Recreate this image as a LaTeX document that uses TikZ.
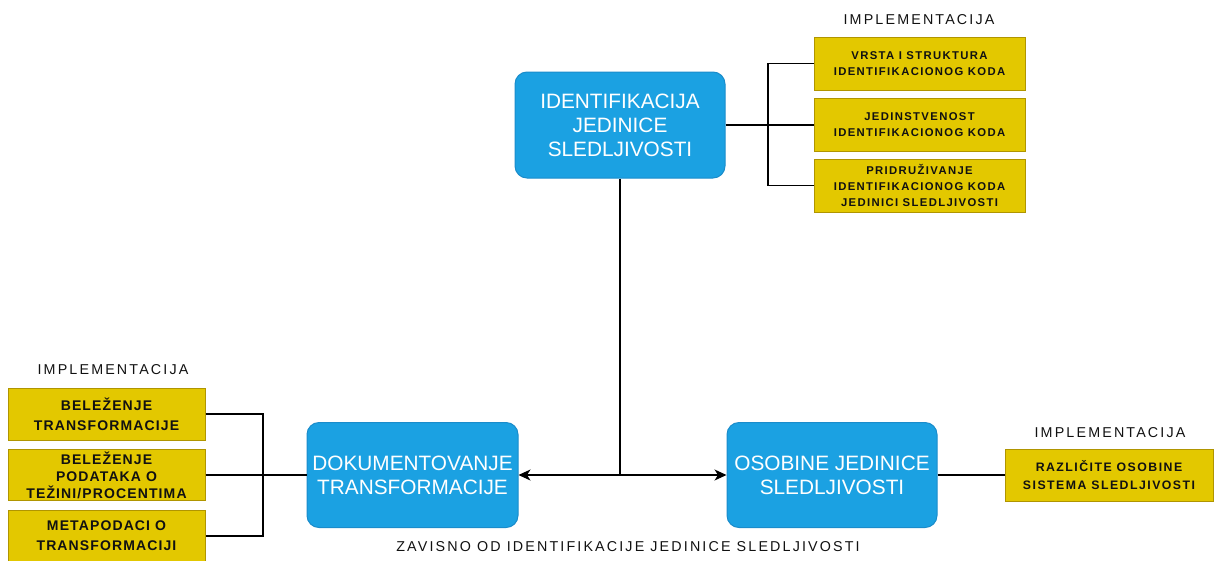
\documentclass[tikz,border=0pt]{standalone}
\usepackage{fontspec}
\setmainfont{Liberation Sans}
\newfontfamily\spaced[LetterSpace=15]{Liberation Sans}
\newfontfamily\spacedbold[LetterSpace=12,UprightFont=* Bold]{Liberation Sans}
\newfontfamily\spacedboldnarrow[LetterSpace=8,UprightFont=* Bold]{Liberation Sans}
\usetikzlibrary{arrows.meta}
\definecolor{blueF}{HTML}{1BA1E2}
\definecolor{blueD}{HTML}{1A8CCB}
\definecolor{yelF}{HTML}{E3C800}
\definecolor{yelD}{HTML}{B09500}
\definecolor{txt}{HTML}{111111}
\tikzset{
  bluebox/.style={rounded corners=12pt, fill=blueF, draw=blueD, line width=1pt,
    text=white, align=center, inner sep=0pt, minimum width=210pt, minimum height=106pt,
    font=\fontsize{20.8}{24}\selectfont},
  yelbox/.style={fill=yelF, draw=yelD, line width=1pt, text=txt, align=center, inner sep=0pt},
  smalltxt/.style={font=\spacedbold\fontsize{11.3}{16}\selectfont},
  midtxt/.style={font=\spacedboldnarrow\fontsize{14}{20}\selectfont},
  labeltxt/.style={text=txt, inner sep=0pt, font=\spaced\fontsize{14.3}{16}\selectfont},
  conn/.style={line width=1.2pt, draw=black},
  arr/.style={conn, -{Stealth[length=12pt, width=11pt, inset=3.5pt]}}
}
\begin{document}
\begin{tikzpicture}[x=1pt, y=-1pt]
\useasboundingbox (0,0) rectangle (1214,560);

% main concept boxes
\node[bluebox] (id) at (620,125) {IDENTIFIKACIJA\\JEDINICE\\SLEDLJIVOSTI};
\node[bluebox, minimum width=211pt, minimum height=105pt] (dok) at (412.5,475) {DOKUMENTOVANJE\\TRANSFORMACIJE};
\node[bluebox, minimum width=210pt, minimum height=105pt] (oso) at (832,475) {OSOBINE JEDINICE\\SLEDLJIVOSTI};

% implementation boxes, identification
\node[labeltxt] (impA) at (919,20) {IMPLEMENTACIJA};
\node[yelbox, smalltxt, minimum width=211pt, minimum height=53pt] (a1) at (919.5,63.5) {VRSTA I STRUKTURA\\IDENTIFIKACIONOG KODA};
\node[yelbox, smalltxt, minimum width=211pt, minimum height=53pt] (a2) at (919.5,125) {JEDINSTVENOST\\IDENTIFIKACIONOG KODA};
\node[yelbox, smalltxt, minimum width=211pt, minimum height=53pt] (a3) at (919.5,185.5) {PRIDRUŽIVANJE\\IDENTIFIKACIONOG KODA\\JEDINICI SLEDLJIVOSTI};

% implementation boxes, documenting transformations
\node[labeltxt] (impB) at (113,370) {IMPLEMENTACIJA};
\node[yelbox, midtxt, minimum width=197pt, minimum height=52pt] (b1) at (106.5,414) {BELEŽENJE\\TRANSFORMACIJE};
\node[yelbox, midtxt, minimum width=197pt, minimum height=51pt, font=\spacedboldnarrow\fontsize{14}{17}\selectfont] (b2) at (106.5,475) {BELEŽENJE\\PODATAKA O\\TEŽINI/PROCENTIMA};
\node[yelbox, midtxt, minimum width=197pt, minimum height=52pt] (b3) at (106.5,536) {METAPODACI O\\TRANSFORMACIJI};

% implementation box, properties
\node[labeltxt] (impC) at (1110,433) {IMPLEMENTACIJA};
\node[yelbox, font=\spacedbold\fontsize{12.3}{18.5}\selectfont, minimum width=208pt, minimum height=52pt] (c1) at (1109,475) {RAZLIČITE OSOBINE\\SISTEMA SLEDLJIVOSTI};

% dependency caption
\node[labeltxt] (dep) at (628,547) {ZAVISNO OD IDENTIFIKACIJE JEDINICE SLEDLJIVOSTI};

% bracket: identification to its implementations
\coordinate (ja) at (768,125);
\draw[conn] (id.east) -- (ja);
\draw[conn] (a1.west) -| (ja) |- (a3.west);
\draw[conn] (ja) -- (a2.west);

% dependency arrows
\coordinate (split) at (id.south |- dok.east);
\draw[conn] (id.south) -- (split);
\draw[arr] (split) -- (dok.east);
\draw[arr] (split) -- (oso.west);

% bracket: documenting to its implementations
\coordinate (jb) at (263,475);
\draw[conn] (b1.east) -| (jb) |- (b3.east);
\draw[conn] (b2.east) -- (dok.west);

% properties to implementation
\draw[conn] (oso.east) -- (c1.west);
\end{tikzpicture}
\end{document}
